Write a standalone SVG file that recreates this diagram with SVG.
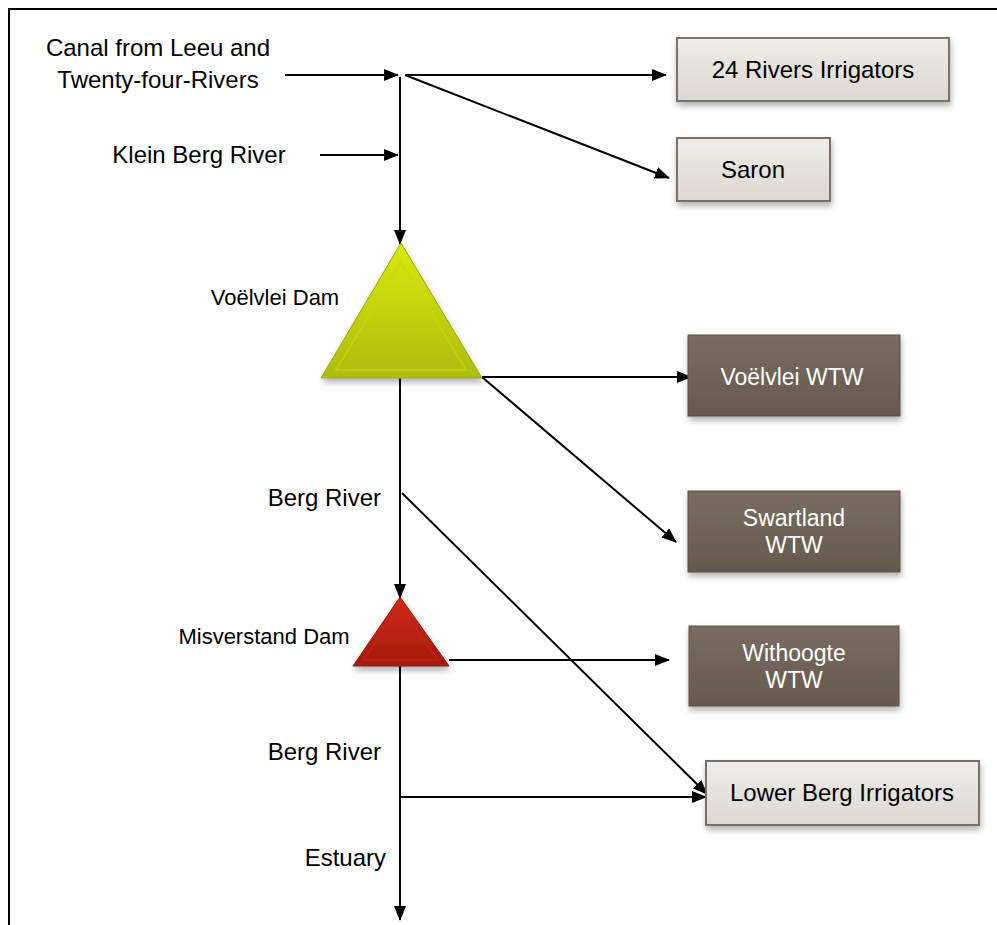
<svg xmlns="http://www.w3.org/2000/svg" width="997" height="925" viewBox="0 0 997 925">
<defs>
<marker id="ah" markerWidth="15" markerHeight="12" refX="14" refY="6" orient="auto" markerUnits="userSpaceOnUse">
<path d="M0,0 L15,6 L0,12 z" fill="#000"/>
</marker>
<linearGradient id="lg" x1="0" y1="0" x2="0" y2="1">
<stop offset="0" stop-color="#efedea"/>
<stop offset="1" stop-color="#dcd7d1"/>
</linearGradient>
<linearGradient id="dg" x1="0" y1="0" x2="0" y2="1">
<stop offset="0" stop-color="#786d61"/>
<stop offset="1" stop-color="#65594d"/>
</linearGradient>
<linearGradient id="gg" x1="0" y1="0" x2="0" y2="1">
<stop offset="0" stop-color="#d8ea0c"/>
<stop offset="1" stop-color="#adbb08"/>
</linearGradient>
<linearGradient id="rg" x1="0" y1="0" x2="0" y2="1">
<stop offset="0" stop-color="#d22a18"/>
<stop offset="1" stop-color="#a31b0e"/>
</linearGradient>
<filter id="sh" x="-10%" y="-10%" width="125%" height="135%">
<feDropShadow dx="1" dy="4" stdDeviation="3" flood-color="#000" flood-opacity="0.3"/>
</filter>
</defs>
<style>
.t{font-family:"Liberation Sans",Arial,sans-serif;font-size:24px;fill:#000}
.s{font-family:"Liberation Sans",Arial,sans-serif;font-size:22px;fill:#000}
.w{font-family:"Liberation Sans",Arial,sans-serif;font-size:23px;fill:#fff}
.c{fill:none;stroke:#000;stroke-width:2}
.lb{fill:url(#lg);stroke:#7a7068;stroke-width:2;filter:url(#sh)}
.db{fill:url(#dg);stroke:#5a4f44;stroke-width:1;filter:url(#sh)}
</style>
<rect width="997" height="925" fill="#fff"/>
<path d="M9,925 V9 H997" fill="none" stroke="#000" stroke-width="2"/>

<g id="connectors">
<line class="c" x1="285" y1="75" x2="398" y2="75" marker-end="url(#ah)"/>
<line class="c" x1="320" y1="155" x2="398" y2="155" marker-end="url(#ah)"/>
<line class="c" x1="400" y1="77" x2="400" y2="244" marker-end="url(#ah)"/>
<line class="c" x1="405" y1="75" x2="666" y2="75" marker-end="url(#ah)"/>
<line class="c" x1="405" y1="75" x2="669" y2="178" marker-end="url(#ah)"/>
<line class="c" x1="482" y1="377" x2="691" y2="377" marker-end="url(#ah)"/>
<line class="c" x1="482" y1="377" x2="676" y2="542" marker-end="url(#ah)"/>
<line class="c" x1="400" y1="378" x2="400" y2="598" marker-end="url(#ah)"/>
<line class="c" x1="402" y1="493" x2="707" y2="794" marker-end="url(#ah)"/>
<line class="c" x1="449" y1="660" x2="669" y2="660" marker-end="url(#ah)"/>
<line class="c" x1="400" y1="666" x2="400" y2="920" marker-end="url(#ah)"/>
<line class="c" x1="400" y1="797" x2="706" y2="797" marker-end="url(#ah)"/>
</g>

<g id="label-canal">
<text class="t" x="158" y="56" text-anchor="middle">Canal from Leeu and</text>
<text class="t" x="158" y="88" text-anchor="middle">Twenty-four-Rivers</text>
</g>
<g id="label-klein"><text class="t" x="199" y="163" text-anchor="middle">Klein Berg River</text></g>
<g id="label-berg1"><text class="t" x="381" y="506" text-anchor="end">Berg River</text></g>
<g id="label-berg2"><text class="t" x="381" y="760" text-anchor="end">Berg River</text></g>
<g id="label-estuary"><text class="t" x="386" y="866" text-anchor="end">Estuary</text></g>

<g id="rivers24">
<rect class="lb" x="677" y="38" width="272" height="63"/>
<text class="t" x="813" y="78" text-anchor="middle">24 Rivers Irrigators</text>
</g>
<g id="saron">
<rect class="lb" x="677" y="138" width="153" height="63"/>
<text class="t" x="753" y="178" text-anchor="middle">Saron</text>
</g>

<g id="voelvlei-dam">
<polygon points="401,243 482,378 321,378" fill="url(#gg)" stroke="#9aa608" stroke-width="1" filter="url(#sh)"/>
<polygon points="401,262 466,370 336,370" fill="none" stroke="#c8d80c" stroke-width="2" opacity="0.6"/>
<text class="s" x="275" y="305" text-anchor="middle">Voëlvlei Dam</text>
</g>

<g id="voelvlei-wtw">
<rect class="db" x="688" y="335" width="212" height="81"/>
<text class="w" x="792" y="385" text-anchor="middle">Voëlvlei WTW</text>
</g>
<g id="swartland-wtw">
<rect class="db" x="688" y="491" width="212" height="81"/>
<text class="w" x="794" y="526" text-anchor="middle">Swartland</text>
<text class="w" x="794" y="553" text-anchor="middle">WTW</text>
</g>

<g id="misverstand-dam">
<polygon points="400,597 449,666 353,666" fill="url(#rg)" stroke="#8a1a0e" stroke-width="1" filter="url(#sh)"/>
<polygon points="400,610 438,660 363,660" fill="none" stroke="#c42414" stroke-width="2" opacity="0.6"/>
<text class="s" x="264" y="644" text-anchor="middle">Misverstand Dam</text>
</g>

<g id="withoogte-wtw">
<rect class="db" x="689" y="626" width="210" height="80"/>
<text class="w" x="794" y="661" text-anchor="middle">Withoogte</text>
<text class="w" x="794" y="688" text-anchor="middle">WTW</text>
</g>

<g id="lower-berg">
<rect class="lb" x="706" y="761" width="273" height="64"/>
<text class="t" x="842" y="801" text-anchor="middle">Lower Berg Irrigators</text>
</g>
</svg>
